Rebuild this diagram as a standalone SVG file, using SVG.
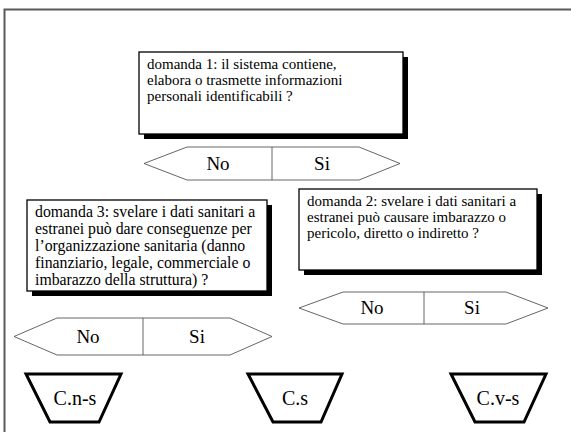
<svg xmlns="http://www.w3.org/2000/svg" width="571" height="432" viewBox="0 0 571 432">
<style>
.frame{stroke:#5a5a5a;stroke-width:2;fill:none}
.box{fill:#fff;stroke:#000;stroke-width:1.3}
.shadow{fill:#000}
.hex{fill:#fff;stroke:#555;stroke-width:0.9}
.div{stroke:#555;stroke-width:0.9}
.trap{fill:#fff;stroke:#000;stroke-width:3;stroke-linejoin:miter}
.q{font-size:15px}
.q3{font-size:15.8px}
.lbl{font-size:19px;text-anchor:middle}
.tl{font-size:20px;text-anchor:middle}
</style>
<rect width="571" height="432" fill="#fff"/>
<path class="frame" d="M4.5 432V9.5H571"/>
<g font-family="'Liberation Serif', 'DejaVu Serif', serif" fill="#000">
<g id="q1">
<rect class="shadow" x="144" y="57" width="264" height="82"/>
<rect class="box" x="139" y="52" width="264" height="82"/>
<text class="q"><tspan x="147" y="69">domanda 1: il sistema contiene,</tspan><tspan x="147" y="85">elabora o trasmette informazioni</tspan><tspan x="147" y="101">personali identificabili ?</tspan></text>
</g>
<g id="a1">
<polygon class="hex" points="144,163.5 187,147 359,147 400,163.5 359,180 187,180"/>
<line class="div" x1="272" y1="147" x2="272" y2="180"/>
<text class="lbl" x="218" y="170">No</text>
<text class="lbl" x="322" y="170">Si</text>
</g>
<g id="q2">
<rect class="shadow" x="304" y="194" width="238" height="81"/>
<rect class="box" x="299" y="189" width="238" height="81"/>
<text class="q" font-size="15.5"><tspan x="307" y="206">domanda 2: svelare i dati sanitari a</tspan><tspan x="307" y="222">estranei può causare imbarazzo o</tspan><tspan x="307" y="238">pericolo, diretto o indiretto ?</tspan></text>
</g>
<g id="a2">
<polygon class="hex" points="299,308 343,292 506,292 548,308 506,324 343,324"/>
<line class="div" x1="424" y1="292" x2="424" y2="324"/>
<text class="lbl" x="372" y="314">No</text>
<text class="lbl" x="472" y="314">Si</text>
</g>
<g id="q3">
<rect class="shadow" x="32" y="205" width="240" height="91"/>
<rect class="box" x="27" y="200" width="240" height="91"/>
<text class="q3"><tspan x="35" y="217">domanda 3: svelare i dati sanitari a</tspan><tspan x="35" y="234">estranei può dare conseguenze per</tspan><tspan x="35" y="251">l’organizzazione sanitaria (danno</tspan><tspan x="35" y="268">finanziario, legale, commerciale o</tspan><tspan x="35" y="285">imbarazzo della struttura) ?</tspan></text>
</g>
<g id="a3">
<polygon class="hex" points="14,336.5 57,318 230,318 272,336.5 230,355 57,355"/>
<line class="div" x1="143" y1="318" x2="143" y2="355"/>
<text class="lbl" x="88" y="343">No</text>
<text class="lbl" x="197" y="343">Si</text>
</g>
<g id="cns">
<polygon class="trap" points="26,374 121,374 99,422 50,422"/>
<text class="tl" x="75" y="405">C.n-s</text>
</g>
<g id="cs">
<polygon class="trap" points="248,374 342,374 321,422 273,422"/>
<text class="tl" x="295" y="405">C.s</text>
</g>
<g id="cvs">
<polygon class="trap" points="451,374 546,374 524,422 475,422"/>
<text class="tl" x="498" y="405">C.v-s</text>
</g>
</g>
<g id="connectors"></g>
</svg>
